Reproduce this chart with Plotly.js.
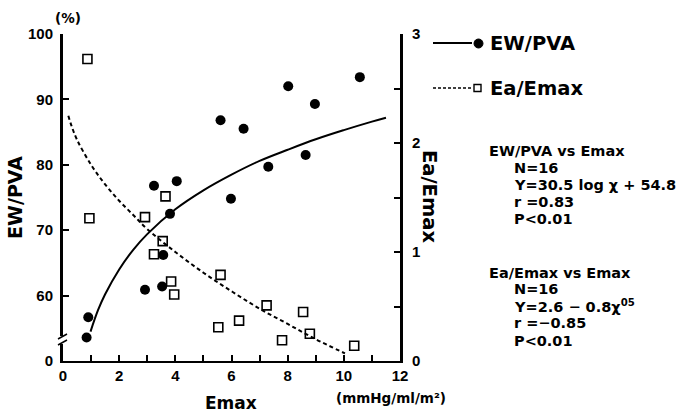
<!DOCTYPE html>
<html>
<head>
<meta charset="utf-8">
<script src="https://cdn.plot.ly/plotly-3.0.1.min.js"></script>
<style>html,body{margin:0;padding:0;background:#fff;}#chart{width:676px;height:413px;}</style>
</head>
<body>
<div id="chart"></div>
<script>
// ---- data ----
const emaxEW = [10.57, 8.02, 8.97, 5.61, 6.43, 8.64, 7.31, 3.24, 4.05, 5.98, 3.81, 3.57, 2.92, 3.53, 0.90, 0.84];
const ewPva  = [93.4, 92.0, 89.3, 86.8, 85.5, 81.5, 79.7, 76.8, 77.5, 74.8, 72.5, 66.2, 60.9, 61.4, 56.7, 53.6];

const emaxEa = [0.87, 0.94, 3.65, 2.92, 3.55, 3.24, 3.85, 3.96, 5.61, 5.53, 6.27, 7.25, 7.80, 8.55, 8.79, 10.37];
const eaEmax = [2.77, 1.31, 1.51, 1.32, 1.10, 0.98, 0.73, 0.61, 0.79, 0.31, 0.37, 0.51, 0.19, 0.45, 0.25, 0.14];

// fitted curves
const fitEWx = [0.98, 1.25, 1.5, 2, 2.5, 3, 4, 5, 6, 7, 8, 9, 10, 11, 11.5];
const fitEWy = [54.5, 57.8, 60.2, 64.0, 67.0, 69.4, 73.2, 76.1, 78.5, 80.6, 82.3, 83.9, 85.3, 86.6, 87.2];
const fitEaX = [0.19, 0.3, 0.5, 1, 1.5, 2, 2.5, 3, 4, 5, 6, 7, 8, 9, 10.04];
const fitEaY = [2.25, 2.16, 2.03, 1.80, 1.62, 1.47, 1.34, 1.21, 1.00, 0.81, 0.64, 0.48, 0.34, 0.20, 0.07];

// tick labels
const xTickVals = [0,1,2,3,4,5,6,7,8,9,10,11,12];
const xTickText = ['0','','2','','4','','6','','8','','10','','12'];
const yTickVals = [50,60,70,80,90,100];
const yTickText = ['0','60','70','80','90','100'];
const y2TickVals = [0,0.5,1,1.5,2,2.5,3];
const y2TickText = ['0','','1','','2','','3'];

const TICKFONT = 'Liberation Sans, Arial, sans-serif';
const FONT = 'DejaVu Sans, Verdana, sans-serif';
const L = 63, R = 400, T = 34, B = 361;
const px = x => (x - L) / (R - L);
const py = y => (B - y) / (B - T);

const traces = [
  {x: fitEWx, y: fitEWy, mode: 'lines', line: {color: '#000', width: 2, shape: 'spline'}, yaxis: 'y', hoverinfo: 'skip'},
  {x: fitEaX, y: fitEaY, mode: 'lines', line: {color: '#000', width: 2, dash: '4px,3px', shape: 'spline'}, yaxis: 'y2', hoverinfo: 'skip'},
  {x: emaxEW, y: ewPva, mode: 'markers', marker: {symbol: 'circle', size: 10, color: '#000'}, yaxis: 'y'},
  {x: emaxEa, y: eaEmax, mode: 'markers', marker: {symbol: 'square-open', size: 9, color: '#000', line: {width: 1.6, color: '#000'}}, yaxis: 'y2'}
];

const axBase = {showgrid: false, zeroline: false, showline: true, linecolor: '#000', ticks: 'inside', ticklen: 6, tickwidth: 2, tickcolor: '#000', tickfont: {family: TICKFONT, size: 15, color: '#000', weight: 'bold'}, fixedrange: true};

const ann = [];
function txt(x, y, t, size, opts) {
  ann.push(Object.assign({xref: 'paper', yref: 'paper', x: px(x), y: py(y), text: t, showarrow: false, xanchor: 'left', yanchor: 'middle', font: {family: FONT, size: size, color: '#000', weight: 'bold'}}, opts || {}));
}
// axis titles & units
txt(68, 18, '(%)', 13.5, {xanchor: 'center'});
txt(15, 198, 'EW/PVA', 19, {xanchor: 'center', textangle: -90});
txt(430, 196, 'Ea/Emax', 19.5, {xanchor: 'center', textangle: 90});
txt(231, 403, 'Emax', 17, {xanchor: 'center'});
txt(391, 398, '(mmHg/ml/m²)', 13.5, {xanchor: 'center'});
// legend text
txt(488, 44, 'EW/PVA', 19.5);
txt(488, 88, 'Ea/Emax', 19.5);
// statistics
txt(487, 151, 'EW/PVA vs Emax', 14.5);
txt(512, 168, 'N=16', 14.5);
txt(512, 185, 'Y=30.5 log χ + 54.8', 14.5);
txt(512, 202, 'r =0.83', 14.5);
txt(512, 219, 'P<0.01', 14.5);
txt(487, 273, 'Ea/Emax vs Emax', 14.5);
txt(512, 289, 'N=16', 14.5);
txt(512, 306, 'Y=2.6 − 0.8χ<sup>05</sup>', 14.5);
txt(512, 323, 'r =−0.85', 14.5);
txt(512, 341, 'P<0.01', 14.5);

const shapes = [
  // legend samples
  {type: 'line', xref: 'paper', yref: 'paper', x0: px(433), x1: px(472), y0: py(43), y1: py(43), line: {color: '#000', width: 2}},
  {type: 'circle', xref: 'paper', yref: 'paper', x0: px(474), x1: px(483), y0: py(39), y1: py(48), fillcolor: '#000', line: {color: '#000', width: 1}},
  {type: 'line', xref: 'paper', yref: 'paper', x0: px(433), x1: px(471), y0: py(88), y1: py(88), line: {color: '#000', width: 1.5, dash: '3px,2px'}},
  {type: 'rect', xref: 'paper', yref: 'paper', x0: px(474), x1: px(481), y0: py(84.5), y1: py(91.5), fillcolor: '#fff', line: {color: '#000', width: 1.4}},
  // axis break
  {type: 'rect', xref: 'paper', yref: 'paper', layer: 'above', x0: px(60), x1: px(66.5), y0: py(336), y1: py(344), fillcolor: '#fff', line: {width: 0}},
  {type: 'line', xref: 'paper', yref: 'paper', layer: 'above', x0: px(58), x1: px(67), y0: py(339), y1: py(334), line: {color: '#000', width: 1.5}},
  {type: 'line', xref: 'paper', yref: 'paper', layer: 'above', x0: px(58), x1: px(67), y0: py(345), y1: py(340), line: {color: '#000', width: 1.5}}
];

const layout = {
  width: 676, height: 413,
  margin: {l: L, r: 676 - R, t: T, b: 413 - B, pad: 0},
  paper_bgcolor: '#fff', plot_bgcolor: '#fff',
  showlegend: false,
  font: {family: FONT, color: '#000'},
  xaxis: Object.assign({}, axBase, {range: [0, 12], tickmode: 'array', tickvals: xTickVals, ticktext: xTickText, linewidth: 2}),
  yaxis: Object.assign({}, axBase, {range: [50, 100], tickmode: 'array', tickvals: yTickVals, ticktext: yTickText, linewidth: 3, ticklabelstandoff: 4}),
  yaxis2: Object.assign({}, axBase, {overlaying: 'y', side: 'right', range: [0, 3], tickmode: 'array', tickvals: y2TickVals, ticktext: y2TickText, linewidth: 3, ticklabelstandoff: 6}),
  annotations: ann,
  shapes: shapes
};

Plotly.newPlot('chart', traces, layout, {staticPlot: true, displayModeBar: false});
</script>
</body>
</html>
